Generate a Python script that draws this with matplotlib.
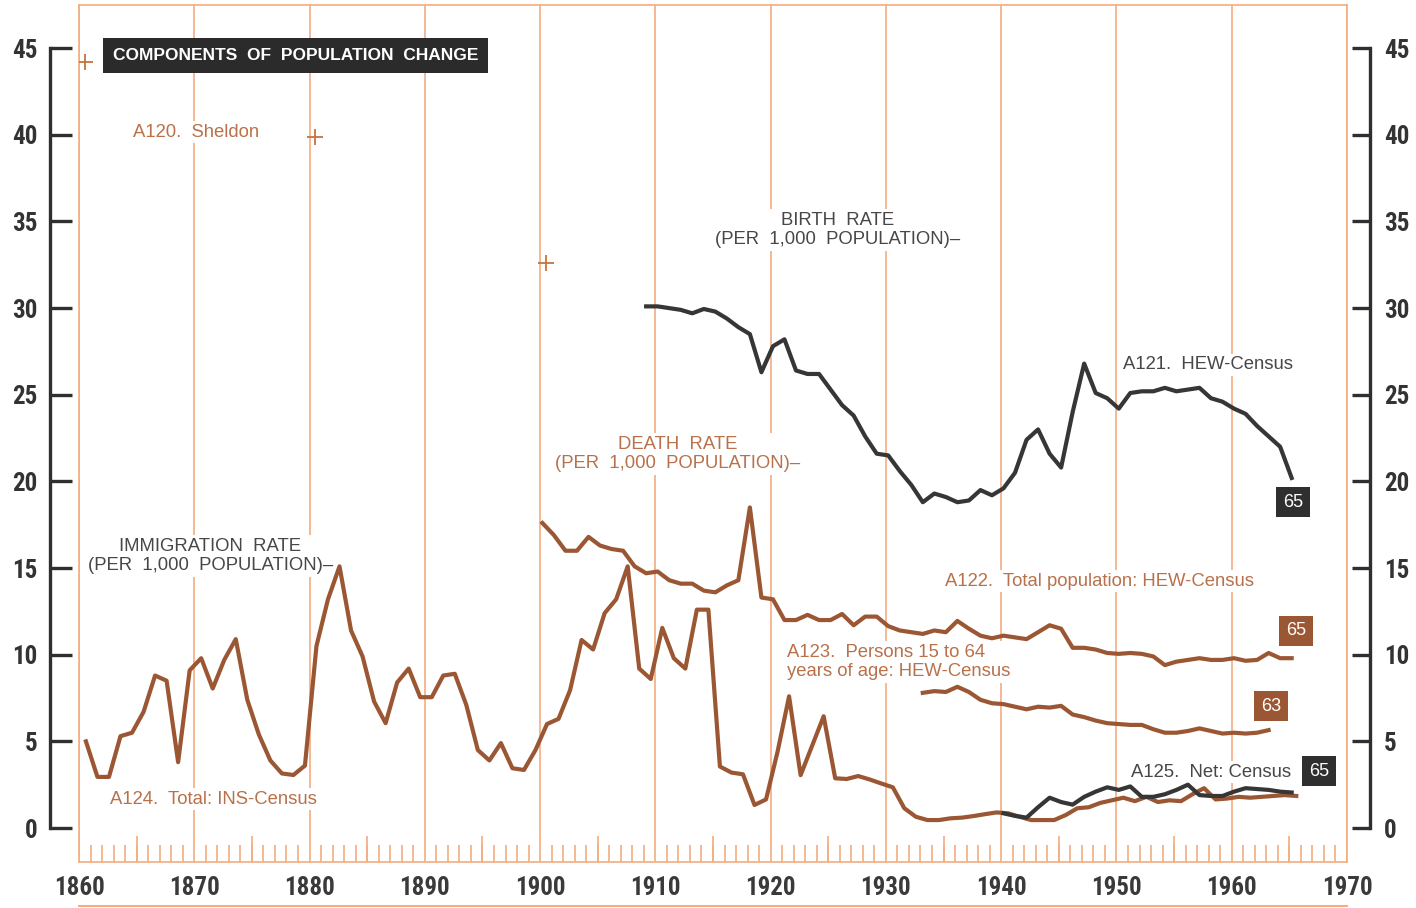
import numpy as np
import matplotlib
matplotlib.use('Agg')
import matplotlib.pyplot as plt
import matplotlib.transforms as mtransforms
from matplotlib.lines import Line2D
from matplotlib.patches import Rectangle
from matplotlib.ticker import MultipleLocator
from matplotlib import font_manager

# ---- data (rates per 1,000 population) ----
birth_years = np.arange(1909, 1966)
birth_rate = [30.1, 30.1, 30.0, 29.9, 29.7, 29.95, 29.8, 29.4, 28.9, 28.5,
              26.3, 27.8, 28.2, 26.4, 26.2, 26.2, 25.3, 24.4, 23.8, 22.6,
              21.6, 21.5, 20.6, 19.8, 18.8, 19.3, 19.1, 18.8, 18.9, 19.5,
              19.2, 19.6, 20.5, 22.4, 23.0, 21.6, 20.8, 24.0, 26.8, 25.1,
              24.8, 24.2, 25.1, 25.2, 25.2, 25.4, 25.2, 25.3, 25.4, 24.8,
              24.6, 24.2, 23.9, 23.2, 22.6, 22.0, 20.2]

death_years = np.arange(1900, 1966)
death_rate = [17.6, 16.9, 16.0, 16.0, 16.8, 16.3, 16.1, 16.0, 15.1, 14.7,
              14.8, 14.3, 14.1, 14.1, 13.7, 13.6, 14.0, 14.3, 18.5, 13.3,
              13.2, 12.0, 12.0, 12.3, 12.0, 12.0, 12.35, 11.7, 12.2, 12.2,
              11.65, 11.4, 11.3, 11.2, 11.4, 11.3, 11.95, 11.5, 11.1, 10.95,
              11.1, 11.0, 10.9, 11.3, 11.7, 11.5, 10.4, 10.4, 10.3, 10.1,
              10.05, 10.1, 10.05, 9.9, 9.4, 9.6, 9.7, 9.8, 9.7, 9.7,
              9.8, 9.65, 9.7, 10.1, 9.8, 9.8]

death15_years = np.arange(1933, 1964)
death15_rate = [7.8, 7.9, 7.85, 8.15, 7.85, 7.4, 7.2, 7.15, 7.0, 6.85,
                7.0, 6.95, 7.05, 6.55, 6.4, 6.2, 6.05, 6.0, 5.95, 5.95,
                5.7, 5.5, 5.5, 5.6, 5.75, 5.6, 5.45, 5.5, 5.45, 5.5, 5.65]

immig_years = np.arange(1860, 1966)
immig_rate = [5.0, 2.95, 2.95, 5.3, 5.5, 6.7, 8.8, 8.5, 3.8, 9.1,
              9.8, 8.05, 9.7, 10.9, 7.4, 5.4, 3.9, 3.15, 3.06, 3.6,
              10.5, 13.2, 15.1, 11.4, 9.9, 7.3, 6.05, 8.4, 9.2, 7.55,
              7.55, 8.8, 8.9, 7.1, 4.5, 3.9, 4.9, 3.45, 3.35, 4.5,
              6.0, 6.3, 7.95, 10.85, 10.3, 12.4, 13.2, 15.1, 9.2, 8.6,
              11.55, 9.8, 9.2, 12.6, 12.6, 3.55, 3.2, 3.1, 1.33, 1.65,
              4.4, 7.6, 3.05, 4.75, 6.45, 2.87, 2.83, 3.0, 2.8, 2.57,
              2.35, 1.14, 0.65, 0.46, 0.46, 0.56, 0.6, 0.69, 0.8, 0.9,
              0.85, 0.65, 0.46, 0.46, 0.46, 0.75, 1.14, 1.2, 1.45, 1.6,
              1.75, 1.55, 1.8, 1.5, 1.6, 1.55, 1.95, 2.3, 1.65, 1.7,
              1.8, 1.75, 1.8, 1.85, 1.9, 1.85]

net_years = np.arange(1940, 1966)
net_rate = [0.85, 0.7, 0.6, 1.2, 1.75, 1.5, 1.35, 1.8, 2.1, 2.35,
            2.2, 2.4, 1.8, 1.8, 1.95, 2.2, 2.5, 1.9, 1.85, 1.85,
            2.1, 2.3, 2.25, 2.2, 2.1, 2.05]

sheldon_years = [1860, 1880, 1900]
sheldon_rate = [44.2, 39.9, 32.6]

decades = list(range(1860, 1971, 10))
y_ticks = list(range(0, 46, 5))

# ---- colours ----
ORANGE = '#f4ad80'
BROWN = '#9b5733'
BROWN_TXT = '#b8714a'
DARK = '#363636'
DARK_TXT = '#474747'

# a narrow bold face for the scale numbers, if one is installed
names = {f.name for f in font_manager.fontManager.ttflist}
narrow = [n for n in ['Liberation Sans Narrow', 'DejaVu Sans Condensed', 'Roboto Condensed']
          if n in names]
if narrow:
    NUM_FONT = dict(family=[narrow[0]], fontsize=18, fontweight='bold')
else:
    NUM_FONT = dict(family=['Liberation Sans'], fontsize=16.5, fontweight='bold')

W, H = 1416, 908
fig = plt.figure(figsize=(W / 100, H / 100), dpi=100)
fig.patch.set_facecolor('white')

# plot frame in pixels: x 79..1347, y 5..862
rect = [79 / W, (H - 862) / H, (1347 - 79) / W, (862 - 5) / H]
ax = fig.add_axes(rect)
ylim = (-1.96, 47.49)
ax.set_xlim(1860, 1970)
ax.set_ylim(*ylim)

for s in ax.spines.values():
    s.set_color(ORANGE)
    s.set_linewidth(1.2)

ax.set_yticks([])
ax.set_xticks(decades)
ax.set_xticklabels([str(d) for d in decades])
ax.tick_params(axis='x', which='major', length=0, pad=10, labelcolor='#3a3a3a')
for lab in ax.get_xticklabels():
    lab.set_family(NUM_FONT['family'])
    lab.set_fontsize(NUM_FONT['fontsize'])
    lab.set_fontweight('bold')
ax.xaxis.set_minor_locator(MultipleLocator(1))
ax.tick_params(axis='x', which='minor', direction='in', length=12.5,
               width=1.2, color=ORANGE)
ax.grid(axis='x', which='major', color=ORANGE, lw=1.2, zorder=0)
ax.set_axisbelow(True)

# 5-year ruler ticks
trans = mtransforms.blended_transform_factory(ax.transData, ax.transAxes)
five = [y for y in range(1865, 1970, 10)]
ax.vlines(five, 0, 26 / 857, transform=trans, color=ORANGE, lw=1.2, zorder=1)

# bottom rule under the year labels
fig.add_artist(Line2D([79 / W, 1347 / W], [1 - 906 / H] * 2, color=ORANGE, lw=1.5))

# ---- series ----
ax.plot(birth_years + 0.2, birth_rate, color=DARK, lw=3, zorder=5,
        solid_joinstyle='round')
ax.plot(death_years + 0.2, death_rate, color=BROWN, lw=3, zorder=5,
        solid_joinstyle='round')
ax.plot(death15_years + 0.2, death15_rate, color=BROWN, lw=3, zorder=5,
        solid_joinstyle='round')
ax.plot(immig_years + 0.6, immig_rate, color=BROWN, lw=3, zorder=5,
        solid_joinstyle='round')
ax.plot(net_years + 0.2, net_rate, color=DARK, lw=3, zorder=6,
        solid_joinstyle='round')
ax.plot(np.array(sheldon_years) + 0.5, sheldon_rate, ls='none', marker='+',
        ms=12, mew=1.3, color='#c4743f', zorder=5)

# ---- labels ----
lab_font = dict(family='Liberation Sans', fontsize=13.3)
wbox = dict(boxstyle='square,pad=0.15', fc='white', ec='none')

ax.text(1864.7, 40.16, 'A120.  Sheldon', color=BROWN_TXT, ha='left', va='center',
        bbox=wbox, zorder=3, **lab_font)
ax.text(1925.8, 34.5, 'BIRTH  RATE\n(PER  1,000  POPULATION)\u2013', color=DARK_TXT,
        ha='center', va='center', multialignment='center', linespacing=1.2,
        bbox=wbox, zorder=3, **lab_font)
ax.text(1911.9, 21.58, 'DEATH  RATE\n(PER  1,000  POPULATION)\u2013', color=BROWN_TXT,
        ha='center', va='center', multialignment='center', linespacing=1.2,
        bbox=wbox, zorder=3, **lab_font)
ax.text(1871.4, 15.7, 'IMMIGRATION  RATE\n(PER  1,000  POPULATION)\u2013', color=DARK_TXT,
        ha='center', va='center', multialignment='center', linespacing=1.2,
        bbox=wbox, zorder=3, **lab_font)
ax.text(1950.6, 26.72, 'A121.  HEW-Census', color=DARK_TXT, ha='left', va='center',
        bbox=wbox, zorder=3, **lab_font)
ax.text(1935.1, 14.25, 'A122.  Total population: HEW-Census', color=BROWN_TXT,
        ha='left', va='center', bbox=wbox, zorder=3, **lab_font)
ax.text(1921.4, 9.58, 'A123.  Persons 15 to 64\nyears of age: HEW-Census',
        color=BROWN_TXT, ha='left', va='center', multialignment='left',
        linespacing=1.2, bbox=wbox, zorder=3, **lab_font)
ax.text(1862.7, 1.67, 'A124.  Total: INS-Census', color=BROWN_TXT, ha='left',
        va='center', bbox=wbox, zorder=3, **lab_font)
ax.text(1951.3, 3.23, 'A125.  Net: Census', color=DARK_TXT, ha='left', va='center',
        bbox=wbox, zorder=3, **lab_font)

# end-year boxes
end_boxes = [(1965.32, 18.81, '65', '#2f2f2f'), (1965.58, 11.37, '65', BROWN),
             (1963.41, 7.04, '63', BROWN), (1967.57, 3.29, '65', '#2f2f2f')]
for bx, by, txt, c in end_boxes:
    ax.text(bx, by, txt, color='white', ha='center', va='center', fontsize=13,
            family='Liberation Sans', zorder=7,
            bbox=dict(boxstyle='square,pad=0.38', fc=c, ec='none'))

# title box
fig.add_artist(Rectangle((103 / W, 1 - 73 / H), (488 - 103) / W, 35 / H,
                         transform=fig.transFigure, fc='#2b2b2b', ec='none'))
fig.text(295.5 / W, 1 - 56 / H, 'COMPONENTS  OF  POPULATION  CHANGE', color='white',
         ha='center', va='center', fontsize=12.5, family='Liberation Sans',
         fontweight='bold')

# ---- black value axes left and right ----
def side_axis(side, offset_px, tick_px, pad):
    a = fig.add_axes(rect)
    a.set_ylim(*ylim)
    a.set_xlim(1860, 1970)
    a.patch.set_visible(False)
    a.set_xticks([])
    for k, s in a.spines.items():
        s.set_visible(k == side)
    sp = a.spines[side]
    sp.set_position(('outward', offset_px * 0.72))
    sp.set_bounds(0, 45)
    sp.set_color('#2f2f2f')
    sp.set_linewidth(2.4)
    if side == 'right':
        a.yaxis.tick_right()
    else:
        a.yaxis.tick_left()
    a.set_yticks(y_ticks)
    a.tick_params(axis='y', direction='in', length=tick_px * 0.72, width=2.4,
                  color='#2f2f2f', pad=pad, labelcolor='#333333')
    for lab in a.get_yticklabels():
        lab.set_family(NUM_FONT['family'])
        lab.set_fontsize(NUM_FONT['fontsize'])
        lab.set_fontweight('bold')
    return a

side_axis('left', 29, 22, 9)
side_axis('right', 23, 18, 10)

fig.savefig('out.png', dpi=100, facecolor='white')
